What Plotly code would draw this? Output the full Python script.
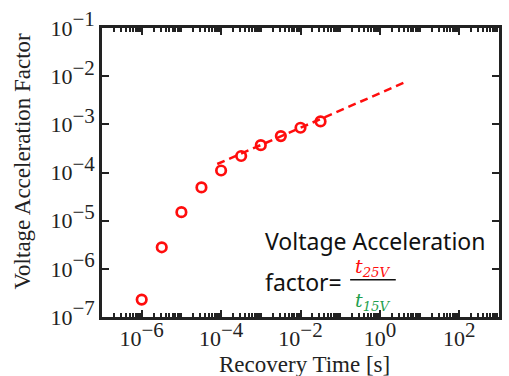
import plotly.graph_objects as go

# Data
recovery_time = [1e-6, 3.2e-6, 1e-5, 3.2e-5, 1e-4, 3.2e-4, 1e-3, 3.2e-3, 1e-2, 3.2e-2]
accel_factor = [2.3e-7, 2.8e-6, 1.5e-5, 4.9e-5, 1.1e-4, 2.2e-4, 3.7e-4, 5.7e-4, 8.5e-4, 1.15e-3]
fit_time = [8e-5, 5.0]
fit_factor = [1.5e-4, 7.9e-3]

x_tickvals = [1e-6, 1e-4, 1e-2, 1e0, 1e2]
x_exponents = ["−6", "−4", "−2", "0", "2"]
y_tickvals = [1e-7, 1e-6, 1e-5, 1e-4, 1e-3, 1e-2, 1e-1]
y_exponents = ["−7", "−6", "−5", "−4", "−3", "−2", "−1"]

def pow_label(e):
    return '10<sup><span style="font-size:21px">' + e + '</span></sup>'

x_ticktext = [pow_label(e) for e in x_exponents]
y_ticktext = [pow_label(e) for e in y_exponents]

RED = "#ff0d0d"
GREEN = "#1f9f4f"
SERIF = "Liberation Serif, Times New Roman, serif"
SANS = "Noto Sans, Open Sans, sans-serif"
MATH = "DejaVu Serif, serif"

fig = go.Figure()
fig.add_trace(go.Scatter(
    x=fit_time, y=fit_factor, mode="lines",
    line=dict(color=RED, width=2.5, dash="8px,5px"),
    showlegend=False, hoverinfo="skip"))
fig.add_trace(go.Scatter(
    x=recovery_time, y=accel_factor, mode="markers",
    marker=dict(symbol="circle-open", size=9.5, color=RED, line=dict(width=2.7, color=RED)),
    showlegend=False))

fig.update_layout(
    width=509, height=376,
    margin=dict(l=102, r=7, t=15, b=59),
    paper_bgcolor="white", plot_bgcolor="white",
    font=dict(family=SERIF, size=22, color="#222"),
    xaxis=dict(
        type="log", range=[-7, 3],
        tickmode="array", tickvals=x_tickvals, ticktext=x_ticktext,
        ticks="inside", ticklen=7, tickwidth=2, tickcolor="#222",
        showline=True, linecolor="#222", linewidth=2.5, mirror="allticks",
        showgrid=False, zeroline=False, ticklabeloverflow="allow",
        minor=dict(ticks="inside", ticklen=4, tickwidth=1.5, tickcolor="#222",
                   dtick="D1", showgrid=False),
        tickfont=dict(family=SERIF, size=22, color="#222"),
    ),
    yaxis=dict(
        type="log", range=[-7, -1],
        tickmode="array", tickvals=y_tickvals, ticktext=y_ticktext,
        ticks="inside", ticklen=7, tickwidth=2, tickcolor="#222",
        showline=True, linecolor="#222", linewidth=2.5, mirror="allticks",
        showgrid=False, zeroline=False, ticklabeloverflow="allow",
        tickfont=dict(family=SERIF, size=22, color="#222"),
    ),
)

# axis titles
fig.add_annotation(xref="paper", yref="paper", x=0.51, y=-0.163, xanchor="center", yanchor="middle",
                   text="Recovery Time [s]", showarrow=False,
                   font=dict(family=SERIF, size=23, color="#222"))
fig.add_annotation(xref="paper", yref="paper", x=-0.2, y=0.54, xanchor="center", yanchor="middle",
                   text="Voltage Acceleration Factor", showarrow=False, textangle=-90,
                   font=dict(family=SERIF, size=23, color="#222"))

# formula box text
fig.add_annotation(xref="paper", yref="paper", x=0.405, y=0.262, xanchor="left", yanchor="middle",
                   text="Voltage Acceleration", showarrow=False,
                   font=dict(family=SANS, size=23, color="#111"))
fig.add_annotation(xref="paper", yref="paper", x=0.405, y=0.122, xanchor="left", yanchor="middle",
                   text="factor=", showarrow=False,
                   font=dict(family=SANS, size=23, color="#111"))
fig.add_annotation(xref="paper", yref="paper", x=0.683, y=0.172, xanchor="center", yanchor="middle",
                   text="<i>t</i><sub><i>25V</i></sub>", showarrow=False,
                   font=dict(family=MATH, size=19, color=RED))
fig.add_annotation(xref="paper", yref="paper", x=0.683, y=0.055, xanchor="center", yanchor="middle",
                   text="<i>t</i><sub><i>15V</i></sub>", showarrow=False,
                   font=dict(family=MATH, size=19, color=GREEN))
fig.add_shape(type="line", xref="paper", yref="paper", x0=0.625, x1=0.74, y0=0.129, y1=0.129,
              line=dict(color="#111", width=1.5))

fig.write_html("out.html")
